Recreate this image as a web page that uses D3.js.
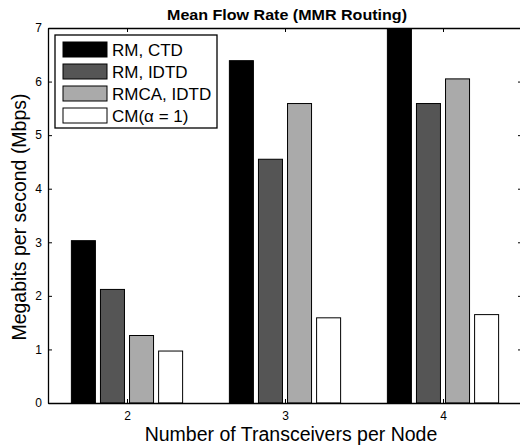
<!DOCTYPE html>
<html>
<head>
<meta charset="utf-8">
<script src="https://cdn.jsdelivr.net/npm/d3@7"></script>
<style>
  body { margin: 0; background: #fff; }
  text { font-family: "Liberation Sans", Arial, sans-serif; }
</style>
</head>
<body>
<div id="chart"></div>
<script>
// Mean flow rate per transceiver count, one bar per scheme

const transceivers = [2, 3, 4];
const schemes = ['RM, CTD', 'RM, IDTD', 'RMCA, IDTD', 'CM(\u03B1 = 1)'];
const rmCtd = [3.03, 6.39, 6.98];
const rmIdtd = [2.12, 4.55, 5.59];
const rmcaIdtd = [1.26, 5.59, 6.05];
const cmAlpha1 = [0.97, 1.59, 1.65];
const yTicks = [0, 1, 2, 3, 4, 5, 6, 7];

const fills = ['#000000', '#555555', '#aaaaaa', '#ffffff'];
const seriesValues = [rmCtd, rmIdtd, rmcaIdtd, cmAlpha1];

let width = 520;
let height = 448;
let margin = { top: 28, right: -2, bottom: 45, left: 48 };

const svg = d3.select('#chart')
  .append('svg')
  .attr('width', width)
  .attr('height', height)

const x = d3.scaleLinear()
  .domain([1.5, 4.5])
  .range([margin.left, width - margin.right])

const y = d3.scaleLinear()
  .domain([0, 7])
  .range([height - margin.bottom, margin.top])

// offsets of each scheme inside a group, in x units
const xInner = d3.scaleBand()
  .domain(d3.range(schemes.length))
  .range([-0.368, 0.368])
  .paddingInner(0.174)
  .paddingOuter(0.087)

// title
svg.append('text')
  .attr('x', 287)
  .attr('y', 20)
  .attr('text-anchor', 'middle')
  .attr('textLength', 240)
  .attr('lengthAdjust', 'spacingAndGlyphs')
  .style('font-size', '14px')
  .style('font-weight', 'bold')
  .text('Mean Flow Rate (MMR Routing)')

// bars
const rows = [];
transceivers.forEach((t, gi) => {
  seriesValues.forEach((vals, si) => {
    rows.push({ t: t, s: si, v: vals[gi] });
  });
});

svg.selectAll('rect.bar')
  .data(rows)
  .enter()
  .append('rect')
  .attr('class', 'bar')
  .attr('x', d => x(d.t + xInner(d.s)))
  .attr('width', d => x(d.t + xInner(d.s) + xInner.bandwidth()) - x(d.t + xInner(d.s)))
  .attr('y', d => y(d.v))
  .attr('height', d => y(0) - y(d.v))
  .attr('fill', d => fills[d.s])
  .attr('stroke', '#000')
  .attr('stroke-width', 1)

// axes: ticks point inward, mirrored on top and right
const xAxis = d3.axisBottom(x).tickValues(transceivers).tickFormat(d3.format('d')).tickSizeInner(-4).tickSizeOuter(0).tickPadding(8)
const xTop = d3.axisTop(x).tickValues(transceivers).tickFormat('').tickSizeInner(-4).tickSizeOuter(0)
const yAxis = d3.axisLeft(y).tickValues(yTicks).tickFormat(d3.format('d')).tickSizeInner(-4).tickSizeOuter(0).tickPadding(6)
const yRight = d3.axisRight(y).tickValues(yTicks).tickFormat('').tickSizeInner(-4).tickSizeOuter(0)

svg.append('g')
  .attr('transform', 'translate(0,' + y(0) + ')')
  .call(xAxis)
svg.append('g')
  .attr('transform', 'translate(0,' + y(7) + ')')
  .call(xTop)
svg.append('g')
  .attr('transform', 'translate(' + x(1.5) + ',0)')
  .call(yAxis)
svg.append('g')
  .attr('transform', 'translate(' + x(4.5) + ',0)')
  .call(yRight)

svg.selectAll('.domain').attr('stroke', '#000').attr('stroke-width', 1.3)
svg.selectAll('.tick line').attr('stroke', '#000')
svg.selectAll('.tick text').style('font-size', '12px').attr('fill', '#000').style('font-family', '"Liberation Sans", Arial, sans-serif')

// axis titles
svg.append('text')
  .attr('x', 291)
  .attr('y', 441)
  .attr('text-anchor', 'middle')
  .style('font-size', '19.5px')
  .text('Number of Transceivers per Node')

svg.append('text')
  .attr('transform', 'translate(26,217) rotate(-90)')
  .attr('text-anchor', 'middle')
  .style('font-size', '19.5px')
  .text('Megabits per second (Mbps)')

// legend
const legend = svg.append('g')
  .attr('transform', 'translate(55,35)')

legend.append('rect')
  .attr('width', 162)
  .attr('height', 93)
  .attr('fill', '#fff')
  .attr('stroke', '#000')
  .attr('stroke-width', 1.3)

const item = legend.selectAll('g.item')
  .data(schemes)
  .enter()
  .append('g')
  .attr('class', 'item')
  .attr('transform', (d, i) => 'translate(8,' + (7 + i * 22) + ')')

item.append('rect')
  .attr('width', 44)
  .attr('height', 15)
  .attr('fill', (d, i) => fills[i])
  .attr('stroke', '#000')

item.append('text')
  .attr('x', 49)
  .attr('y', 14)
  .style('font-size', '17px')
  .text(d => d)
</script>
</body>
</html>
